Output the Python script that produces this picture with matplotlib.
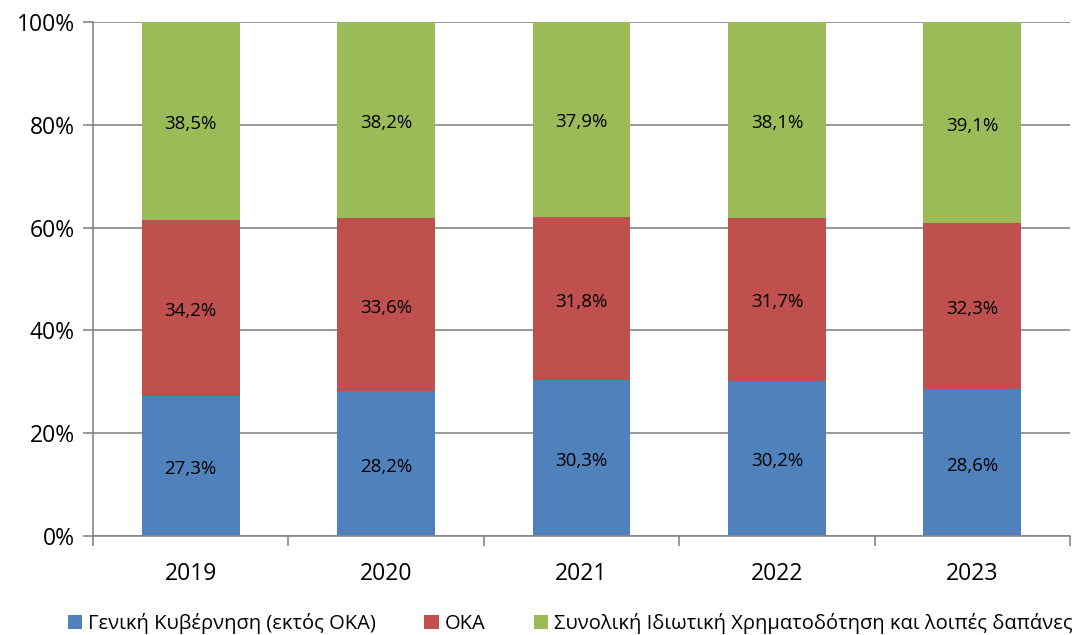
import matplotlib
matplotlib.use("Agg")
import matplotlib.pyplot as plt
import numpy as np

plt.rcParams["font.family"] = ["Open Sans", "DejaVu Sans"]

years = ["2019", "2020", "2021", "2022", "2023"]
gen_gov = [27.3, 28.2, 30.3, 30.2, 28.6]
oka = [34.2, 33.6, 31.8, 31.7, 32.3]
private = [38.5, 38.2, 37.9, 38.1, 39.1]

series = [
    ("Γενική Κυβέρνηση (εκτός ΟΚΑ)", gen_gov, "#4f81bd"),
    ("ΟΚΑ", oka, "#c0504d"),
    ("Συνολική Ιδιωτική Χρηματοδότηση και λοιπές δαπάνες", private, "#9bbb59"),
]

fig = plt.figure(figsize=(10.8, 6.35), dpi=100)
ax = fig.add_axes([93 / 1080, 99 / 635, 977 / 1080, 514 / 635])

x = np.arange(len(years))
bottom = np.zeros(len(years))
handles = []
for label, vals, color in series:
    vals = np.array(vals)
    b = ax.bar(x, vals, 0.5, bottom=bottom, color=color, label=label, zorder=2)
    handles.append(b)
    for xi, v, bo in zip(x, vals, bottom):
        ax.text(xi, bo + v / 2 - 0.6, f"{v:.1f}%".replace(".", ","),
                ha="center", va="center", fontsize=13.5, color="black", zorder=3)
    bottom += vals

ax.set_xlim(-0.5, len(years) - 0.5)
ax.set_ylim(0, 100)
ax.set_yticks(range(0, 101, 20))
ax.set_yticklabels([f"{v}%" for v in range(0, 101, 20)], fontsize=16.5)
ax.set_xticks(x)
ax.set_xticklabels(years, fontsize=16.5)
ax.tick_params(axis="x", length=0, pad=19)
ax.set_xticks(np.arange(-0.5, len(years)), minor=True)
ax.tick_params(axis="x", which="minor", length=7, color="#868686", width=1.2)
ax.tick_params(axis="y", length=7, color="#868686", width=1.2, pad=6)

ax.grid(axis="y", color="#868686", linewidth=1.2, zorder=0)
for s in ["top", "right"]:
    ax.spines[s].set_visible(False)
for s in ["left", "bottom"]:
    ax.spines[s].set_color("#868686")
    ax.spines[s].set_linewidth(1.2)

fig.legend(handles=handles, loc="lower center", bbox_to_anchor=(0.528, -0.027),
           ncol=3, frameon=False, fontsize=14.5, handlelength=0.7,
           handleheight=0.7, handletextpad=0.3, columnspacing=2.4)

fig.savefig("out.png", dpi=100)
